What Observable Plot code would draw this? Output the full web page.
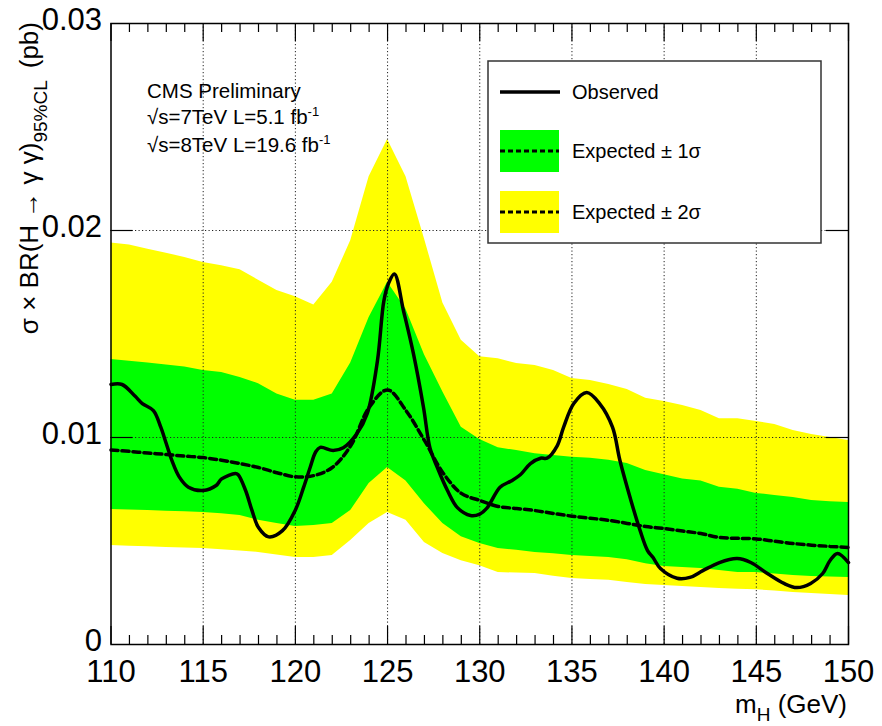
<!DOCTYPE html>
<html><head><meta charset="utf-8">
<script src="https://cdn.jsdelivr.net/npm/d3@7"></script>
<script src="https://cdn.jsdelivr.net/npm/@observablehq/plot@0.6"></script>
<style>
html,body{margin:0;padding:0;background:#fff;}
#chart{width:882px;height:726px;}
</style></head><body><div id="chart"></div>
<script>
// ---- data ----
const bandMass = [110,111,112,113,114,115,116,117,118,119,120,121,122,123,124,125,126,127,128,129,130,
                  131,132,133,134,135,136,137,138,139,140,141,142,143,144,145,146,147,148,149,150];
const up2 = [.0194,.0193,.0191,.0189,.0187,.01845,.0183,.0181,.0176,.0171,.0168,.0164,.0175,.0195,.0226,.0244,.0226,.0196,.0165,.0147,.0139,
             .0138,.01357,.01348,.01324,.01285,.01275,.01256,.01232,.0119,.01174,.01155,.0113,.0109,.0109,.01077,.01063,.01034,.01014,.0100,.00986];
const dn2 = [.00478,.00475,.00472,.00469,.00466,.00464,.00458,.00452,.00445,.00432,.0042,.0042,.0043,.00502,.00584,.00638,.006,.00493,.0044,.00405,.0038,
             .00348,.00345,.00343,.0033,.00319,.00314,.0031,.003,.0029,.00285,.0028,.00275,.0027,.00267,.00265,.00258,.00251,.00246,.00241,.00237];
const up1 = [.01377,.01368,.0136,.0135,.0134,.01324,.01314,.0129,.0126,.0121,.0118,.0118,.0121,.0136,.0158,.0175,.0162,.0140,.0122,.0105,.0099,
             .0095,.00937,.00922,.00913,.00904,.009,.0089,.00874,.0084,.0082,.0080,.0079,.0076,.0075,.0073,.0072,.0071,.00696,.0069,.00686];
const dn1 = [.00652,.0065,.00647,.00644,.00641,.00638,.00632,.00623,.006,.00584,.0057,.00575,.00584,.00647,.00778,.00855,.0079,.0068,.00584,.0052,.00488,
             .00464,.00455,.00445,.00438,.0043,.00425,.0042,.0041,.0039,.00377,.00372,.00367,.00357,.00348,.00348,.0034,.00333,.00328,.00326,.00324];
const expMed = [.0094,.00933,.00925,.00918,.0091,.00903,.0089,.00874,.00855,.0083,.0081,.00816,.00855,.0096,.01145,.0123,.0113,.00986,.0083,.0073,.00696,
                .00667,.00657,.00647,.00633,.0062,.0061,.006,.00585,.0057,.0056,.00548,.00536,.00517,.00513,.0051,.00499,.00488,.0048,.00474,.00469];

const obsMass = [110,110.6,111.3,111.7,112.3,112.7,113.0,113.3,113.7,114.2,115.0,115.7,116.0,116.75,116.9,117.3,117.65,118.0,118.55,119.3,120.0,
                 120.45,120.8,121.1,121.35,122.05,122.6,123.35,123.9,124.45,124.8,125.05,125.37,125.87,126.4,126.95,127.3,127.7,128.25,128.8,129.5,
                 130.0,130.4,131.1,131.7,132.2,132.75,133.3,133.65,134.2,134.55,135.1,135.8,136.5,137.2,137.6,138.2,138.7,139.1,139.4,139.8,
                 140.7,141.4,142.1,143.0,143.96,144.7,145.6,146.5,147.2,147.95,148.6,149.0,149.4,150];
const obsVal = [.01256,.01256,.0120,.01164,.0113,.0105,.0097,.0089,.0081,.0076,.00744,.00768,.0080,.00826,.0082,.00744,.00647,.00565,.0052,.0055,.0065,
                .0076,.00855,.0093,.00952,.00937,.0095,.0102,.01116,.0137,.0166,.01744,.0179,.0161,.01406,.01145,.0095,.00855,.00744,.0066,.00623,
                .0063,.0066,.0076,.0079,.0082,.00874,.0090,.0090,.0096,.0105,.01164,.01217,.01164,.0105,.0089,.00696,.0055,.00454,.0042,.00367,
                .0032,.00324,.00357,.00396,.00415,.00396,.00343,.00295,.00275,.00295,.00343,.00406,.0044,.00396];

const xMajor = [110,115,120,125,130,135,140,145,150];
const xMinor = [111,112,113,114,116,117,118,119,121,122,123,124,126,127,128,129,131,132,133,134,136,137,138,139,141,142,143,144,146,147,148,149];
const xGrid = [115,120,125,130,135,140,145];
const yMajor = [0,0.01,0.02,0.03];
const yTicks = [0.01,0.02];
const yGrid = [0.01,0.02];

const legendLabels = ["Observed","Expected ± 1σ","Expected ± 2σ"];
const infoLines = ["CMS Preliminary", ["√s=7TeV L=5.1 fb","-1"], ["√s=8TeV L=19.6 fb","-1"]];

// ---- layout ----
const W = 882, H = 726;
const mL = 110.5, mR = 34, mT = 23, mB = 82;
const innerH = H - mT - mB, innerW = W - mL - mR;
const FONT = "'Liberation Sans', Arial, Helvetica, sans-serif";

const bands = bandMass.map((m,i)=>({m, up2:up2[i], dn2:dn2[i], up1:up1[i], dn1:dn1[i], exp:expMed[i]}));
const obs = obsMass.map((m,i)=>({m, v:obsVal[i]}));

const tickStyle = {stroke:"black", strokeWidth:1.2};
const plot = Plot.plot({
  width: W, height: H,
  marginLeft: mL, marginRight: mR, marginTop: mT, marginBottom: mB,
  style: {fontFamily: FONT, background: "white", color: "black", overflow: "visible"},
  x: {domain: [110,150], label: null},
  y: {domain: [0,0.03], label: null},
  marks: [
    Plot.areaY(bands, {x:"m", y1:"dn2", y2:"up2", fill:"#ffff00"}),
    Plot.areaY(bands, {x:"m", y1:"dn1", y2:"up1", fill:"#00ff00"}),
    Plot.ruleX(xGrid, {stroke:"#222", strokeWidth:1, strokeDasharray:"1.2,2.3"}),
    Plot.ruleY(yGrid, {stroke:"#222", strokeWidth:1, strokeDasharray:"1.2,2.3"}),
    Plot.line(bands, {x:"m", y:"exp", stroke:"black", strokeWidth:3.5, strokeDasharray:"7,4", curve:"catmull-rom"}),
    Plot.line(obs, {x:"m", y:"v", stroke:"black", strokeWidth:3.5, curve:"catmull-rom"}),
    // inward ticks
    Plot.ruleX(xMajor, {...tickStyle, insetTop: innerH - 18}),
    Plot.ruleX(xMinor, {...tickStyle, insetTop: innerH - 9}),
    Plot.ruleX(xMajor, {...tickStyle, insetBottom: innerH - 18}),
    Plot.ruleX(xMinor, {...tickStyle, insetBottom: innerH - 9}),
    Plot.ruleY(yTicks, {...tickStyle, insetRight: innerW - 22}),
    Plot.ruleY(yTicks, {...tickStyle, insetLeft: innerW - 22}),
    Plot.frame({stroke:"black", strokeWidth:1.5}),
    Plot.axisX(xMajor, {tickSize:0, tickPadding:15, fontSize:31, tickFormat:d=>String(d), label:null}),
    Plot.axisY(yMajor, {tickSize:0, tickPadding:9, fontSize:31, dy:-3, tickFormat:d=> d===0 ? "0" : d.toFixed(2), label:null})
  ]
});
document.getElementById("chart").appendChild(plot);

const svg = d3.select(plot);

// info text
const info = svg.append("g").attr("font-family", FONT).attr("font-size", 20.5)
  .attr("fill","black").attr("text-anchor","start");
const infoY = [98, 124, 152];
infoLines.forEach((ln, i) => {
  const t = info.append("text").attr("x", 147).attr("y", infoY[i]);
  if (typeof ln === "string") t.text(ln);
  else {
    t.append("tspan").text(ln[0]);
    t.append("tspan").attr("dy", -8).attr("font-size", 13).text(ln[1]);
  }
});

// legend
const lg = svg.append("g").attr("font-family", FONT).attr("font-size", 20).attr("text-anchor","start");
lg.append("rect").attr("x",488).attr("y",61).attr("width",333).attr("height",182)
  .attr("fill","white").attr("stroke","#333").attr("stroke-width",1.5);
const rows = [92, 151, 212];
const fills = [null, "#00ff00", "#ffff00"];
rows.forEach((ry, i) => {
  if (i === 0) {
    lg.append("line").attr("x1",500).attr("x2",560).attr("y1",ry).attr("y2",ry)
      .attr("stroke","black").attr("stroke-width",3.5);
  } else {
    lg.append("rect").attr("x",500).attr("y",ry-21).attr("width",59).attr("height",42).attr("fill",fills[i]);
    lg.append("line").attr("x1",500).attr("x2",559).attr("y1",ry).attr("y2",ry)
      .attr("stroke","black").attr("stroke-width",3).attr("stroke-dasharray","5,3");
  }
  lg.append("text").attr("x",572).attr("y",ry).attr("dy","0.35em").text(legendLabels[i]);
});

// y axis title
const yt = svg.append("text").attr("font-family", FONT).attr("font-size", 26)
  .attr("transform", "translate(38,22) rotate(-90)").attr("text-anchor","end");
yt.append("tspan").text("σ × BR(H → γ γ)");
yt.append("tspan").attr("dy", 9).attr("font-size", 19).text("95%CL");
yt.append("tspan").attr("dy", -9).attr("dx", 12).text("(pb)");

// x axis title
const xt = svg.append("text").attr("font-family", FONT).attr("font-size", 26)
  .attr("x", 847).attr("y", 713).attr("text-anchor","end");
xt.append("tspan").text("m");
xt.append("tspan").attr("dy", 8).attr("font-size", 19).text("H");
xt.append("tspan").attr("dy", -8).text(" (GeV)");
</script>
</body></html>
